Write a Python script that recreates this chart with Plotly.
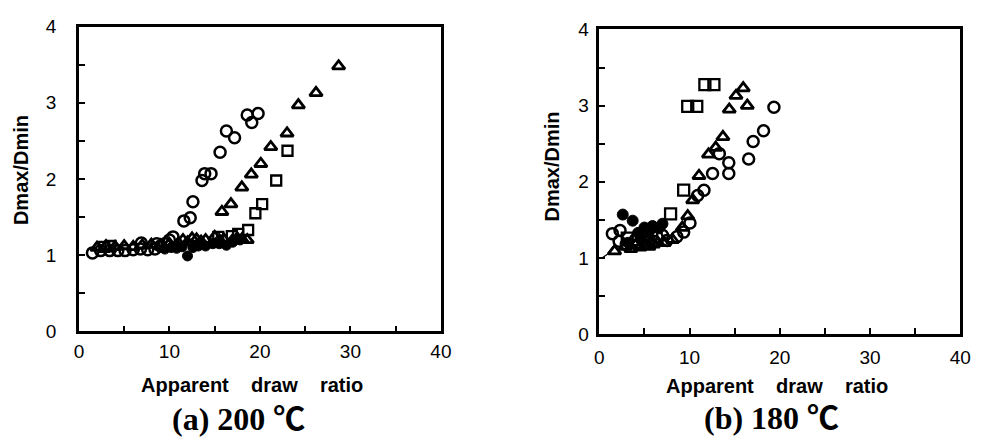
import plotly.graph_objects as go

# ---------------- data: (a) 200 C ----------------
circ_a_x = [1.5, 2.4, 3.4, 4.3, 5.1, 6.0, 6.8, 6.9, 7.6, 8.4, 8.6, 9.0, 9.5, 10.0, 10.4,
            11.6, 12.3, 12.6, 13.6, 13.9, 14.6, 15.6, 16.3, 17.2, 18.6, 19.1, 19.8]
circ_a_y = [1.03, 1.06, 1.06, 1.06, 1.06, 1.07, 1.08, 1.16, 1.07, 1.08, 1.15, 1.12, 1.15, 1.2, 1.24,
            1.45, 1.49, 1.70, 1.98, 2.07, 2.07, 2.35, 2.63, 2.54, 2.84, 2.74, 2.86]
tri_a_x = [2.0, 3.0, 4.0, 5.0, 6.0, 7.0, 8.0, 9.0, 10.0, 11.0, 11.5, 12.0, 12.5, 13.0, 13.5,
           14.0, 15.0, 15.5, 16.0, 17.0, 17.5, 18.0, 18.6, 15.8, 16.8, 18.0, 19.05, 20.1,
           21.2, 23.0, 24.25, 26.2, 28.7]
tri_a_y = [1.1, 1.12, 1.11, 1.12, 1.11, 1.13, 1.14, 1.13, 1.15, 1.16, 1.2, 1.17, 1.22, 1.21, 1.18,
           1.2, 1.24, 1.2, 1.21, 1.2, 1.22, 1.21, 1.2, 1.57, 1.67, 1.89, 2.06, 2.2,
           2.42, 2.6, 2.97, 3.13, 3.48]
sq_a_x = [2.8, 3.5, 15.4, 16.9, 17.6, 18.7, 19.5, 20.25, 21.8, 23.05]
sq_a_y = [1.11, 1.12, 1.24, 1.25, 1.28, 1.33, 1.55, 1.67, 1.98, 2.37]
fill_a_x = [9.5, 10.2, 10.8, 11.4, 12.0, 12.6, 13.2, 14.0, 14.8, 15.5, 16.3, 17.0, 17.8]
fill_a_y = [1.08, 1.1, 1.09, 1.11, 0.99, 1.1, 1.12, 1.12, 1.15, 1.15, 1.13, 1.17, 1.2]

# ---------------- data: (b) 180 C ----------------
circ_b_x = [1.45, 2.3, 2.2, 3.0, 4.0, 5.1, 6.0, 6.4, 7.0, 7.5, 8.6, 9.35, 10.05, 10.9, 11.6,
            12.55, 13.3, 14.35, 14.35, 16.55, 17.05, 18.2, 19.35]
circ_b_y = [1.32, 1.36, 1.22, 1.18, 1.24, 1.28, 1.22, 1.28, 1.3, 1.23, 1.28, 1.34, 1.46, 1.82, 1.89,
            2.11, 2.37, 2.25, 2.11, 2.3, 2.53, 2.67, 2.98]
tri_b_x = [1.7, 2.9, 3.5, 4.0, 4.5, 5.2, 5.5, 6.0, 6.5, 7.2, 8.1, 9.2, 9.8, 10.35, 11.05,
           12.1, 12.9, 13.7, 14.4, 15.15, 15.95, 16.4]
tri_b_y = [1.09, 1.15, 1.12, 1.17, 1.14, 1.16, 1.15, 1.18, 1.2, 1.2, 1.24, 1.4, 1.55, 1.76, 2.08,
           2.36, 2.45, 2.59, 2.95, 3.13, 3.23, 3.0]
sq_b_x = [3.1, 5.5, 7.9, 9.35, 9.8, 10.8, 11.7, 12.7]
sq_b_y = [1.26, 1.2, 1.58, 1.89, 2.99, 2.99, 3.275, 3.275]
fill_b_x = [2.6, 3.2, 3.7, 4.3, 4.6, 5.0, 5.5, 5.9, 6.6, 7.0]
fill_b_y = [1.57, 1.2, 1.49, 1.33, 1.25, 1.4, 1.35, 1.42, 1.39, 1.45]
line_b_x = [0.3, 0.9, 1.5]
line_b_y = [1.0, 1.05, 1.15]

# ---------------- axis ticks ----------------
x_tickvals = [0, 5, 10, 15, 20, 25, 30, 35, 40]
x_ticktext = ["0", "", "10", "", "20", "", "30", "", "40"]
y_tickvals = [0, 0.5, 1, 1.5, 2, 2.5, 3, 3.5, 4]
y_ticktext = ["0", "", "1", "", "2", "", "3", "", "4"]

x_title = "Apparent\u00a0\u00a0\u00a0\u00a0draw\u00a0\u00a0\u00a0\u00a0ratio"
y_title = "Dmax/Dmin"
cap_a = "(a)\u00a0200\u00a0\u2103"
cap_b = "(b)\u00a0180\u00a0\u2103"

W, H = 981, 442
fig = go.Figure()


def add_series(xs, ys, xa, ya, symbol, size, lw, name):
    fig.add_trace(go.Scatter(
        x=xs, y=ys, xaxis=xa, yaxis=ya, mode="markers", name=name,
        marker=dict(symbol=symbol, size=size, color="black",
                    line=dict(color="black", width=lw)),
        showlegend=False, cliponaxis=False))


add_series(tri_a_x, tri_a_y, "x", "y", "triangle-up-open", 11, 2.8, "triangle")
add_series(sq_a_x, sq_a_y, "x", "y", "square-open", 10, 2.3, "square")
add_series(circ_a_x, circ_a_y, "x", "y", "circle-open", 11, 2.5, "circle")
add_series(fill_a_x, fill_a_y, "x", "y", "circle", 10, 1, "filled")

fig.add_trace(go.Scatter(x=line_b_x, y=line_b_y, xaxis="x2", yaxis="y2", mode="lines",
                         line=dict(color="black", width=1.2), showlegend=False))
add_series(tri_b_x, tri_b_y, "x2", "y2", "triangle-up-open", 11, 2.8, "triangle")
add_series(sq_b_x, sq_b_y, "x2", "y2", "square-open", 11, 2.3, "square")
add_series(circ_b_x, circ_b_y, "x2", "y2", "circle-open", 11, 2.5, "circle")
add_series(fill_b_x, fill_b_y, "x2", "y2", "circle", 11, 1, "filled")

tickfont = dict(family="Liberation Sans, Arial, sans-serif", size=19, color="black")


def xaxis(dom, anchor, standoff):
    return dict(domain=dom, anchor=anchor, range=[0, 40], tickmode="array",
                tickvals=x_tickvals, ticktext=x_ticktext, ticks="inside", ticklen=6,
                tickwidth=2, tickcolor="black", showline=True, linewidth=2.5,
                linecolor="black", mirror=True, showgrid=False, zeroline=False,
                tickfont=tickfont, ticklabelstandoff=standoff)


def yaxis(dom, anchor, standoff):
    return dict(domain=dom, anchor=anchor, range=[0, 4], tickmode="array",
                tickvals=y_tickvals, ticktext=y_ticktext, ticks="inside", ticklen=6,
                tickwidth=2, tickcolor="black", showline=True, linewidth=2.5,
                linecolor="black", mirror=True, showgrid=False, zeroline=False,
                tickfont=tickfont, ticklabelstandoff=standoff)


fig.update_layout(
    width=W, height=H, margin=dict(l=0, r=0, t=0, b=0),
    paper_bgcolor="white", plot_bgcolor="white",
    xaxis=xaxis([67 / W, 435 / W], "y", 1),
    yaxis=yaxis([1 - 329 / H, 1 - 9 / H], "x", 16),
    xaxis2=xaxis([596 / W, 963 / W], "y2", 4),
    yaxis2=yaxis([1 - 332 / H, 1 - 12 / H], "x2", 4),
)

title_font = dict(family="Liberation Sans, Arial, sans-serif", size=20, color="black", weight="bold")
cap_font = dict(family="Liberation Serif, Noto Sans CJK JP, serif", size=32, color="black", weight="bold")

ann = []
# x titles
ann.append(dict(text=x_title, x=243 / W, y=1 - 385 / H, xref="paper", yref="paper",
                showarrow=False, font=title_font, xanchor="center", yanchor="middle"))
ann.append(dict(text=x_title, x=777 / W, y=1 - 386 / H, xref="paper", yref="paper",
                showarrow=False, font=title_font, xanchor="center", yanchor="middle"))
# y titles
ann.append(dict(text=y_title, x=19 / W, y=1 - 160 / H, xref="paper", yref="paper",
                showarrow=False, font=title_font, textangle=-90, xanchor="center",
                yanchor="middle", xshift=-10, borderpad=0))
ann.append(dict(text=y_title, x=554 / W, y=1 - 156 / H, xref="paper", yref="paper",
                showarrow=False, font=title_font, textangle=-90, xanchor="center",
                yanchor="middle", xshift=-6, borderpad=0))
# captions
ann.append(dict(text=cap_a, x=229 / W, y=1 - 421 / H, xref="paper", yref="paper",
                showarrow=False, font=cap_font, xanchor="center", yanchor="middle"))
ann.append(dict(text=cap_b, x=771 / W, y=1 - 420 / H, xref="paper", yref="paper",
                showarrow=False, font=cap_font, xanchor="center", yanchor="middle"))
fig.update_layout(annotations=ann)

fig.write_html("out.html")
